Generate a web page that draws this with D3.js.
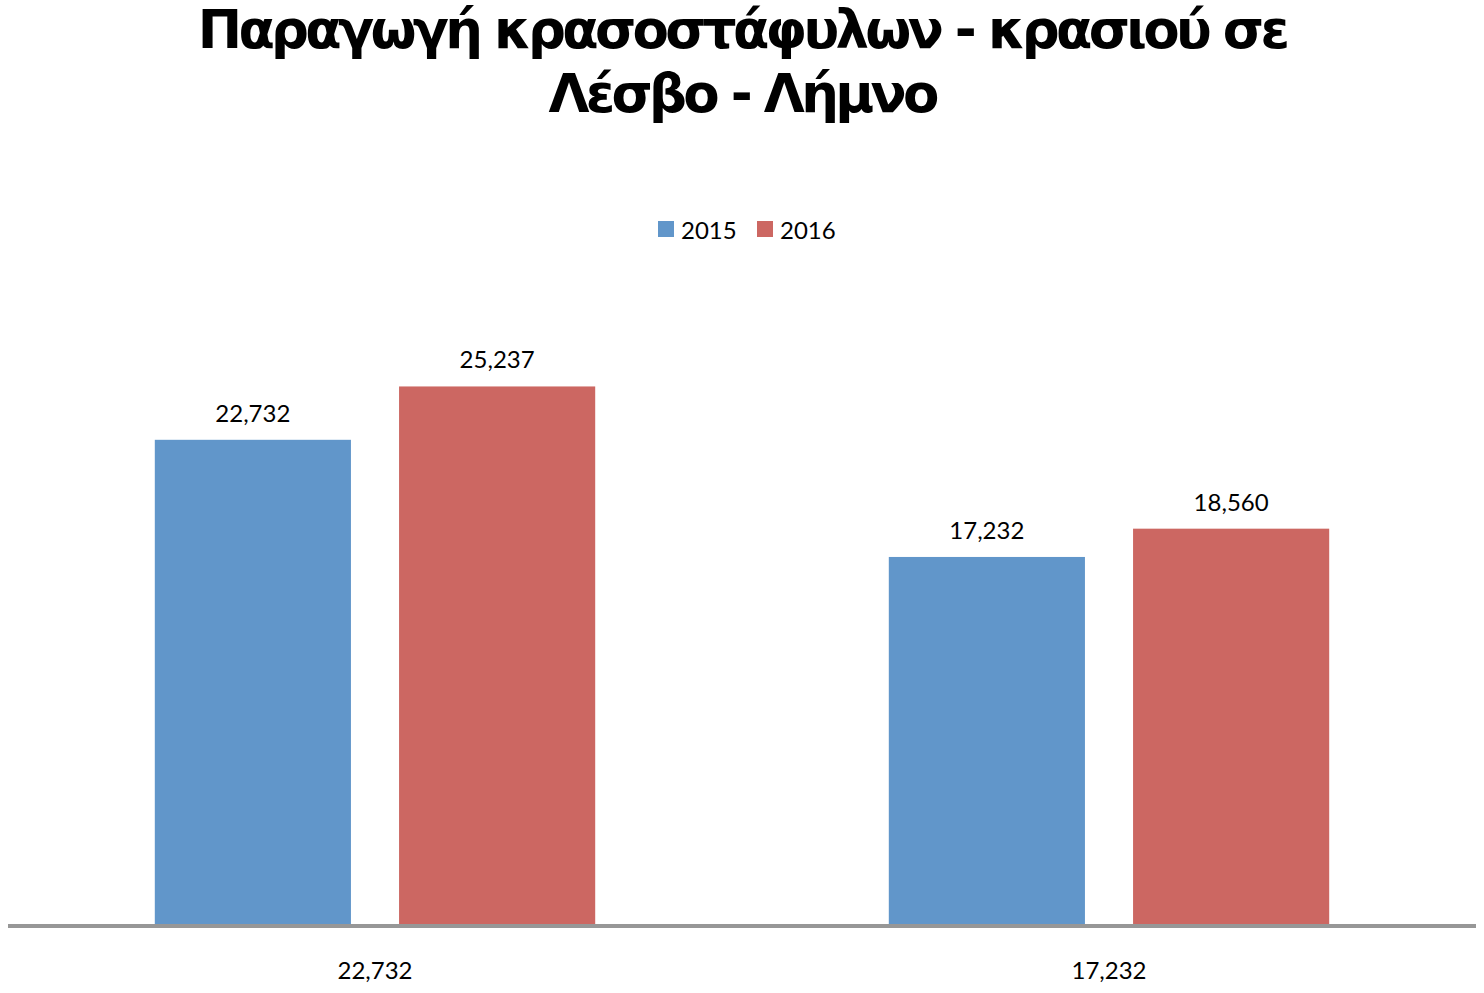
<!DOCTYPE html>
<html lang="el">
<head>
  <meta charset="UTF-8">
  <title>Παραγωγή κρασοστάφυλων - κρασιού σε Λέσβο - Λήμνο</title>
  <script src="https://d3js.org/d3.v7.min.js"></script>
  <style>
    body { margin: 0; background: #fff; }
    .title { font-family: "DejaVu Sans", sans-serif; font-weight: bold; font-size: 53px; letter-spacing: -3.7px; fill: #000; text-anchor: middle; }
    .lbl { font-family: Lato, sans-serif; font-size: 24px; fill: #000; }
  </style>
</head>
<body>
  <svg id="chart" width="1484" height="993"></svg>
  <script>
    // Data
    const categories = ["22,732", "17,232"];
    const seriesNames = ["2015", "2016"];
    const values2015 = [22732, 17232];
    const values2016 = [25237, 18560];
    const titleLines = ["Παραγωγή κρασοστάφυλων - κρασιού σε", "Λέσβο - Λήμνο"];

    const width = 1484, height = 993;
    const margin = { top: 285, right: 8, bottom: 69, left: 8 };
    const colors = ["#6196ca", "#cc6762"];
    const fmt = d3.format(",");

    const svg = d3.select("#chart");

    // Title
    svg.append("g").selectAll("text")
      .data(titleLines)
      .join("text")
        .attr("class", "title")
        .attr("x", width / 2)
        .attr("y", (d, i) => 48 + i * 64)
        .text(d => d);

    // Legend
    const legend = svg.append("g").attr("transform", "translate(658,221)");
    const item = legend.selectAll("g")
      .data(seriesNames)
      .join("g")
        .attr("transform", (d, i) => `translate(${i * 99},0)`);
    item.append("rect")
      .attr("width", 16).attr("height", 16)
      .attr("fill", (d, i) => colors[i]);
    item.append("text")
      .attr("class", "lbl")
      .attr("x", 23).attr("y", 18)
      .text(d => d);

    // Scales: each category band holds a group of two bars, gap 150% of bar width
    const bandStep = (width - margin.left - margin.right) / categories.length;
    const groupWidth = bandStep * 0.6;
    const x1 = d3.scaleBand()
      .domain(seriesNames)
      .range([0, groupWidth])
      .paddingInner(0.197);

    const y = d3.scaleLinear()
      .domain([0, 30000])
      .range([height - margin.bottom, margin.top]);

    const rows = categories.map((c, i) => ({
      category: c,
      vals: [values2015[i], values2016[i]]
    }));

    const groups = svg.append("g").selectAll("g")
      .data(rows)
      .join("g")
        .attr("transform", (d, i) => `translate(${margin.left + i * bandStep + (bandStep - groupWidth) / 2},0)`);

    groups.selectAll("rect")
      .data(d => d.vals.map((v, j) => ({ key: seriesNames[j], value: v, j })))
      .join("rect")
        .attr("x", d => x1(d.key))
        .attr("y", d => y(d.value))
        .attr("width", x1.bandwidth())
        .attr("height", d => y(0) - y(d.value))
        .attr("fill", d => colors[d.j]);

    groups.selectAll("text")
      .data(d => d.vals.map((v, j) => ({ key: seriesNames[j], value: v })))
      .join("text")
        .attr("class", "lbl")
        .attr("text-anchor", "middle")
        .attr("x", d => x1(d.key) + x1.bandwidth() / 2)
        .attr("y", d => y(d.value) - 18)
        .text(d => fmt(d.value));

    // Category axis
    const xAxis = svg.append("g")
      .attr("transform", `translate(0,${y(0) + 2})`);
    xAxis.append("line")
      .attr("x1", margin.left).attr("x2", width - margin.right)
      .attr("stroke", "#979797").attr("stroke-width", 4);
    xAxis.selectAll("text")
      .data(categories)
      .join("text")
        .attr("class", "lbl")
        .attr("text-anchor", "middle")
        .attr("x", (d, i) => margin.left + (i + 0.5) * bandStep)
        .attr("y", 53)
        .text(d => d);
  </script>
</body>
</html>
